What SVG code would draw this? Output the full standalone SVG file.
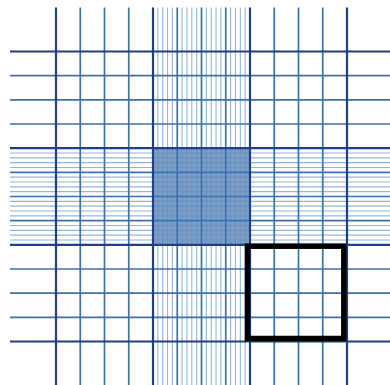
<svg xmlns="http://www.w3.org/2000/svg" width="390" height="385" viewBox="0 0 390 385">
<style>
.fine{stroke:#93b5dc;stroke-width:1.1;fill:none}
.med{stroke:#3a72b2;stroke-width:1.7;fill:none}
.dark{stroke:#1e3f8e;stroke-width:2.2;fill:none}
.box{stroke:#000;stroke-width:5.5;fill:none}
</style>
<rect width="390" height="385" fill="#fff"/>
<g id="fine-lines" class="fine">
<path d="M157.85 7.5V385M162.7 7.5V385M167.55 7.5V385M172.4 7.5V385M182.1 7.5V385M186.95 7.5V385M191.8 7.5V385M196.65 7.5V385M206.35 7.5V385M211.2 7.5V385M216.05 7.5V385M220.9 7.5V385M230.6 7.5V385M235.45 7.5V385M240.3 7.5V385M245.15 7.5V385"/>
<path d="M10 153H390M10 157.83H390M10 162.67H390M10 167.5H390M10 177.17H390M10 182H390M10 186.83H390M10 191.67H390M10 201.33H390M10 206.17H390M10 211H390M10 215.83H390M10 225.5H390M10 230.33H390M10 235.17H390M10 240H390"/>
</g>
<rect id="center-square" x="153" y="148.17" width="97" height="96.66" fill="#6089bb" fill-opacity="0.82"/>
<g id="medium-lines" class="med">
<path d="M80.25 7.5V385M104.5 7.5V385M128.75 7.5V385M177.25 7.5V385M201.5 7.5V385M225.75 7.5V385M274.25 7.5V385M298.5 7.5V385M322.75 7.5V385"/>
<path d="M10 75.67H390M10 99.83H390M10 124H390M10 172.33H390M10 196.5H390M10 220.67H390M10 269H390M10 293.17H390M10 317.33H390"/>
</g>
<g id="dark-lines" class="dark">
<path d="M56 7.5V385M153 7.5V385M250 7.5V385M347 7.5V385"/>
<path d="M10 51.5H390M10 148.17H390M10 244.83H390M10 341.5H390"/>
</g>
<rect id="highlight" class="box" x="247.5" y="246.2" width="96.3" height="92.3"/>
</svg>
